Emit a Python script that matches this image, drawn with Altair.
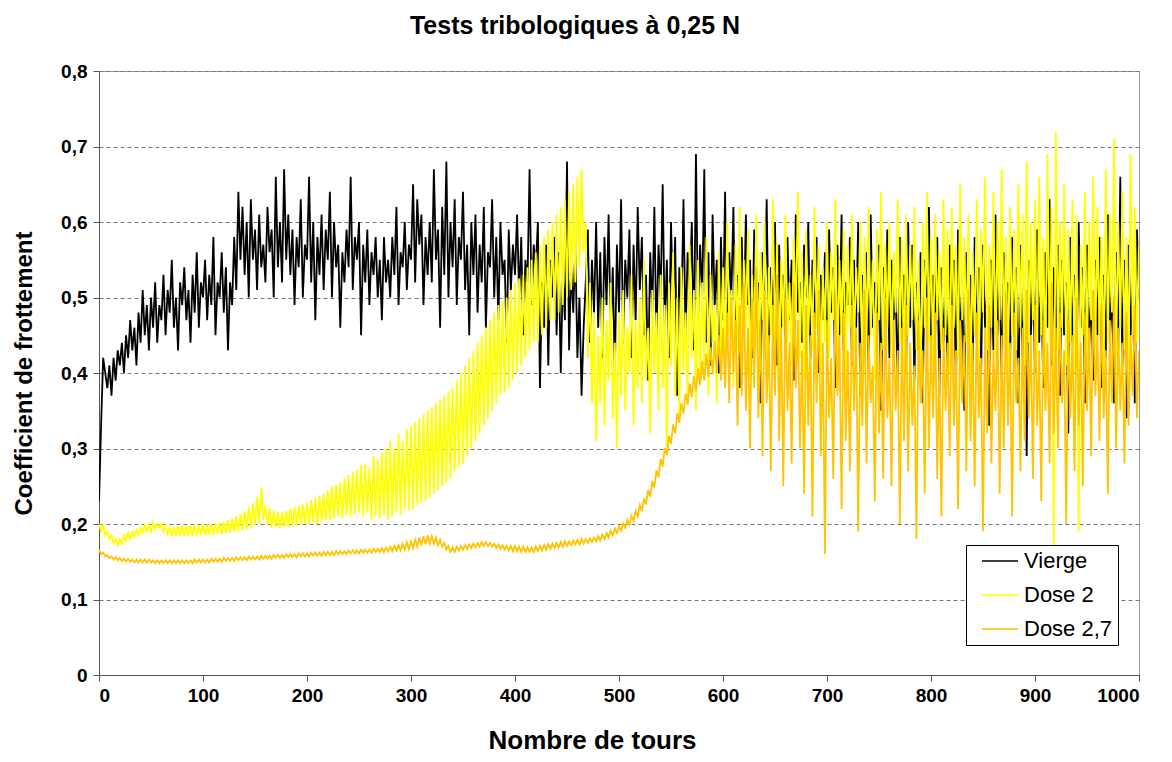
import altair as alt
import pandas as pd

STEP = 2

vierge = [
    0.23, 0.33, 0.42, 0.40, 0.38, 0.41, 0.37, 0.42, 0.39, 0.43,
    0.41, 0.44, 0.40, 0.45, 0.42, 0.47, 0.43, 0.46, 0.41, 0.48,
    0.44, 0.51, 0.45, 0.49, 0.43, 0.50, 0.46, 0.52, 0.44, 0.49,
    0.47, 0.53, 0.45, 0.51, 0.48, 0.55, 0.46, 0.50, 0.43, 0.52,
    0.49, 0.54, 0.47, 0.51, 0.44, 0.53, 0.48, 0.56, 0.46, 0.52,
    0.50, 0.55, 0.47, 0.53, 0.49, 0.58, 0.45, 0.52, 0.50, 0.56,
    0.48, 0.54, 0.43, 0.52, 0.49, 0.58, 0.51, 0.64, 0.55, 0.62,
    0.53, 0.60, 0.50, 0.63, 0.55, 0.59, 0.51, 0.61, 0.54, 0.57,
    0.52, 0.62, 0.56, 0.59, 0.50, 0.66, 0.54, 0.60, 0.52, 0.67,
    0.55, 0.61, 0.53, 0.59, 0.49, 0.58, 0.54, 0.63, 0.50, 0.57,
    0.55, 0.66, 0.52, 0.60, 0.47, 0.58, 0.53, 0.61, 0.51, 0.59,
    0.55, 0.64, 0.50, 0.60, 0.54, 0.57, 0.46, 0.56, 0.52, 0.59,
    0.54, 0.66, 0.51, 0.58, 0.55, 0.60, 0.45, 0.57, 0.52, 0.59,
    0.49, 0.56, 0.53, 0.58, 0.50, 0.55, 0.47, 0.58, 0.52, 0.55,
    0.50, 0.58, 0.53, 0.62, 0.49, 0.56, 0.54, 0.60, 0.51, 0.57,
    0.55, 0.65, 0.52, 0.63, 0.57, 0.61, 0.49, 0.58, 0.53, 0.60,
    0.52, 0.67, 0.55, 0.59, 0.46, 0.62, 0.53, 0.68, 0.50, 0.60,
    0.54, 0.63, 0.49, 0.58, 0.55, 0.64, 0.51, 0.57, 0.45, 0.60,
    0.53, 0.61, 0.48, 0.57, 0.52, 0.62, 0.46, 0.56, 0.54, 0.63,
    0.50, 0.58, 0.47, 0.60, 0.53, 0.55, 0.44, 0.59, 0.51, 0.57,
    0.53, 0.61, 0.50, 0.58, 0.45, 0.55, 0.52, 0.67, 0.49, 0.57,
    0.54, 0.60, 0.38, 0.52, 0.46, 0.57, 0.41, 0.55, 0.50, 0.58,
    0.45, 0.56, 0.40, 0.53, 0.47, 0.68, 0.43, 0.54, 0.48, 0.57,
    0.42, 0.50, 0.37, 0.46, 0.52, 0.59, 0.44, 0.55, 0.48, 0.60,
    0.46, 0.56, 0.42, 0.58, 0.49, 0.61, 0.45, 0.54, 0.40, 0.57,
    0.48, 0.63, 0.44, 0.55, 0.50, 0.59, 0.42, 0.57, 0.47, 0.62,
    0.51, 0.58, 0.45, 0.53, 0.39, 0.56, 0.48, 0.62, 0.44, 0.57,
    0.50, 0.65, 0.46, 0.55, 0.42, 0.60, 0.49, 0.58, 0.37, 0.54,
    0.48, 0.63, 0.45, 0.56, 0.51, 0.60, 0.43, 0.69, 0.47, 0.57,
    0.50, 0.67, 0.44, 0.56, 0.41, 0.61, 0.49, 0.55, 0.40, 0.58,
    0.47, 0.64, 0.45, 0.56, 0.50, 0.62, 0.43, 0.53, 0.38, 0.58,
    0.46, 0.61, 0.49, 0.55, 0.42, 0.59, 0.47, 0.52, 0.36, 0.56,
    0.49, 0.63, 0.44, 0.54, 0.48, 0.60, 0.41, 0.57, 0.46, 0.53,
    0.43, 0.58, 0.47, 0.55, 0.39, 0.61, 0.48, 0.52, 0.44, 0.57,
    0.50, 0.60, 0.42, 0.55, 0.46, 0.58, 0.40, 0.53, 0.47, 0.56,
    0.44, 0.59, 0.48, 0.54, 0.38, 0.57, 0.45, 0.61, 0.43, 0.52,
    0.49, 0.58, 0.41, 0.55, 0.46, 0.60, 0.37, 0.53, 0.47, 0.56,
    0.40, 0.61, 0.46, 0.52, 0.43, 0.57, 0.35, 0.54, 0.45, 0.59,
    0.42, 0.55, 0.47, 0.51, 0.38, 0.58, 0.44, 0.53, 0.40, 0.60,
    0.46, 0.57, 0.39, 0.52, 0.43, 0.56, 0.36, 0.55, 0.47, 0.62,
    0.42, 0.53, 0.45, 0.58, 0.37, 0.54, 0.44, 0.51, 0.40, 0.57,
    0.46, 0.55, 0.38, 0.59, 0.43, 0.52, 0.35, 0.56, 0.45, 0.53,
    0.40, 0.58, 0.44, 0.54, 0.38, 0.57, 0.46, 0.51, 0.33, 0.55,
    0.43, 0.61, 0.45, 0.53, 0.39, 0.56, 0.47, 0.52, 0.41, 0.58,
    0.44, 0.54, 0.36, 0.57, 0.42, 0.50, 0.29, 0.55, 0.45, 0.53,
    0.40, 0.59, 0.44, 0.52, 0.38, 0.56, 0.46, 0.63, 0.41, 0.54,
    0.43, 0.57, 0.37, 0.55, 0.45, 0.52, 0.32, 0.58, 0.44, 0.53,
    0.41, 0.60, 0.46, 0.54, 0.36, 0.57, 0.43, 0.51, 0.39, 0.55,
    0.45, 0.58, 0.38, 0.53, 0.42, 0.61, 0.44, 0.52, 0.36, 0.56,
    0.43, 0.66, 0.41, 0.55, 0.34, 0.57, 0.45, 0.52, 0.36, 0.59,
    0.50,
]

dose_2 = [
    0.200, 0.190, 0.200, 0.185, 0.190, 0.180, 0.185, 0.175, 0.180, 0.172,
    0.180, 0.175, 0.185, 0.178, 0.188, 0.180, 0.190, 0.183, 0.192, 0.186,
    0.195, 0.188, 0.200, 0.190, 0.198, 0.190, 0.202, 0.193, 0.200, 0.195,
    0.200, 0.190, 0.198, 0.186, 0.195, 0.185, 0.196, 0.184, 0.197, 0.185,
    0.198, 0.184, 0.197, 0.185, 0.198, 0.184, 0.199, 0.185, 0.198, 0.186,
    0.200, 0.185, 0.199, 0.186, 0.200, 0.186, 0.201, 0.187, 0.202, 0.187,
    0.203, 0.188, 0.205, 0.189, 0.207, 0.190, 0.210, 0.190, 0.213, 0.192,
    0.217, 0.193, 0.222, 0.195, 0.228, 0.198, 0.236, 0.200, 0.248, 0.205,
    0.225, 0.198, 0.220, 0.195, 0.218, 0.196, 0.216, 0.195, 0.215, 0.196,
    0.217, 0.196, 0.220, 0.197, 0.222, 0.198, 0.224, 0.199, 0.226, 0.200,
    0.228, 0.200, 0.232, 0.202, 0.235, 0.200, 0.238, 0.203, 0.240, 0.205,
    0.245, 0.205, 0.250, 0.207, 0.252, 0.210, 0.255, 0.208, 0.260, 0.212,
    0.265, 0.210, 0.268, 0.213, 0.272, 0.215, 0.278, 0.210, 0.280, 0.215,
    0.275, 0.205, 0.290, 0.210, 0.285, 0.208, 0.295, 0.212, 0.300, 0.205,
    0.310, 0.210, 0.300, 0.215, 0.320, 0.212, 0.310, 0.220, 0.325, 0.218,
    0.330, 0.220, 0.335, 0.225, 0.340, 0.228, 0.345, 0.230, 0.350, 0.235,
    0.355, 0.240, 0.360, 0.245, 0.365, 0.250, 0.370, 0.255, 0.375, 0.260,
    0.380, 0.270, 0.390, 0.275, 0.400, 0.280, 0.410, 0.290, 0.420, 0.300,
    0.430, 0.310, 0.440, 0.320, 0.450, 0.330, 0.460, 0.340, 0.470, 0.350,
    0.480, 0.360, 0.490, 0.370, 0.495, 0.375, 0.500, 0.380, 0.510, 0.390,
    0.520, 0.400, 0.525, 0.410, 0.530, 0.420, 0.540, 0.430, 0.550, 0.440,
    0.560, 0.440, 0.570, 0.450, 0.580, 0.460, 0.590, 0.470, 0.600, 0.470,
    0.610, 0.480, 0.620, 0.490, 0.630, 0.500, 0.640, 0.510, 0.650, 0.520,
    0.660, 0.540, 0.670, 0.560, 0.600, 0.420, 0.520, 0.360, 0.480, 0.310,
    0.450, 0.360, 0.500, 0.330, 0.470, 0.390, 0.520, 0.340, 0.440, 0.300,
    0.480, 0.370, 0.510, 0.350, 0.460, 0.400, 0.530, 0.330, 0.470, 0.380,
    0.500, 0.360, 0.550, 0.390, 0.460, 0.320, 0.510, 0.400, 0.480, 0.350,
    0.530, 0.380, 0.490, 0.300, 0.520, 0.410, 0.560, 0.370, 0.500, 0.340,
    0.540, 0.400, 0.480, 0.360, 0.570, 0.420, 0.510, 0.350, 0.550, 0.390,
    0.520, 0.410, 0.580, 0.370, 0.530, 0.440, 0.490, 0.360, 0.560, 0.420,
    0.540, 0.400, 0.600, 0.450, 0.510, 0.380, 0.570, 0.430, 0.620, 0.410,
    0.550, 0.460, 0.590, 0.390, 0.530, 0.440, 0.610, 0.420, 0.560, 0.470,
    0.600, 0.400, 0.540, 0.450, 0.630, 0.430, 0.570, 0.370, 0.550, 0.460,
    0.610, 0.440, 0.520, 0.410, 0.580, 0.470, 0.640, 0.420, 0.560, 0.390,
    0.590, 0.450, 0.530, 0.430, 0.620, 0.460, 0.570, 0.400, 0.540, 0.440,
    0.600, 0.420, 0.560, 0.470, 0.630, 0.410, 0.550, 0.450, 0.590, 0.380,
    0.570, 0.460, 0.610, 0.430, 0.540, 0.480, 0.600, 0.410, 0.580, 0.440,
    0.620, 0.450, 0.550, 0.390, 0.590, 0.470, 0.640, 0.430, 0.570, 0.460,
    0.600, 0.420, 0.560, 0.480, 0.630, 0.440, 0.580, 0.400, 0.610, 0.450,
    0.570, 0.470, 0.620, 0.430, 0.550, 0.380, 0.600, 0.460, 0.640, 0.440,
    0.580, 0.410, 0.610, 0.470, 0.560, 0.430, 0.630, 0.450, 0.590, 0.400,
    0.620, 0.460, 0.570, 0.420, 0.650, 0.470, 0.580, 0.440, 0.610, 0.390,
    0.560, 0.450, 0.630, 0.410, 0.590, 0.480, 0.660, 0.430, 0.570, 0.460,
    0.640, 0.420, 0.600, 0.470, 0.670, 0.440, 0.580, 0.400, 0.620, 0.450,
    0.590, 0.430, 0.650, 0.460, 0.610, 0.410, 0.680, 0.440, 0.600, 0.470,
    0.630, 0.420, 0.660, 0.450, 0.580, 0.400, 0.690, 0.440, 0.620, 0.170,
    0.720, 0.430, 0.600, 0.460, 0.650, 0.410, 0.590, 0.440, 0.630, 0.400,
    0.610, 0.190, 0.570, 0.450, 0.640, 0.420, 0.600, 0.470, 0.660, 0.430,
    0.620, 0.450, 0.580, 0.400, 0.670, 0.440, 0.610, 0.480, 0.710, 0.420,
    0.600, 0.460, 0.640, 0.430, 0.580, 0.410, 0.690, 0.450, 0.620, 0.440,
    0.570,
]

dose_2_7 = [
    0.166, 0.160, 0.162, 0.157, 0.159, 0.155, 0.157, 0.153, 0.156, 0.152,
    0.155, 0.151, 0.154, 0.150, 0.154, 0.150, 0.153, 0.149, 0.153, 0.149,
    0.153, 0.149, 0.153, 0.149, 0.153, 0.149, 0.152, 0.148, 0.152, 0.148,
    0.152, 0.148, 0.152, 0.148, 0.152, 0.148, 0.152, 0.148, 0.152, 0.148,
    0.152, 0.148, 0.152, 0.148, 0.152, 0.148, 0.153, 0.149, 0.153, 0.149,
    0.153, 0.149, 0.153, 0.149, 0.154, 0.150, 0.154, 0.150, 0.154, 0.150,
    0.155, 0.151, 0.155, 0.151, 0.155, 0.151, 0.156, 0.152, 0.156, 0.152,
    0.156, 0.152, 0.157, 0.153, 0.157, 0.153, 0.157, 0.153, 0.158, 0.154,
    0.158, 0.154, 0.158, 0.154, 0.159, 0.155, 0.159, 0.155, 0.159, 0.155,
    0.160, 0.156, 0.160, 0.156, 0.160, 0.156, 0.161, 0.157, 0.161, 0.157,
    0.161, 0.157, 0.162, 0.158, 0.162, 0.158, 0.162, 0.158, 0.163, 0.159,
    0.163, 0.159, 0.163, 0.159, 0.164, 0.160, 0.164, 0.160, 0.164, 0.160,
    0.165, 0.161, 0.165, 0.161, 0.165, 0.161, 0.166, 0.162, 0.166, 0.162,
    0.166, 0.162, 0.167, 0.163, 0.167, 0.163, 0.168, 0.163, 0.169, 0.164,
    0.170, 0.164, 0.171, 0.165, 0.172, 0.165, 0.174, 0.166, 0.176, 0.167,
    0.177, 0.168, 0.179, 0.170, 0.182, 0.172, 0.184, 0.173, 0.185, 0.174,
    0.184, 0.174, 0.182, 0.172, 0.179, 0.170, 0.175, 0.166, 0.171, 0.163,
    0.169, 0.163, 0.170, 0.165, 0.171, 0.166, 0.172, 0.167, 0.173, 0.168,
    0.174, 0.169, 0.175, 0.170, 0.176, 0.171, 0.176, 0.171, 0.175, 0.170,
    0.174, 0.168, 0.173, 0.167, 0.172, 0.166, 0.171, 0.165, 0.171, 0.164,
    0.171, 0.164, 0.170, 0.163, 0.170, 0.163, 0.169, 0.163, 0.169, 0.163,
    0.170, 0.164, 0.171, 0.165, 0.172, 0.166, 0.173, 0.167, 0.174, 0.168,
    0.175, 0.169, 0.176, 0.170, 0.177, 0.171, 0.177, 0.172, 0.178, 0.173,
    0.179, 0.173, 0.180, 0.174, 0.180, 0.175, 0.181, 0.176, 0.182, 0.177,
    0.184, 0.178, 0.186, 0.180, 0.188, 0.182, 0.191, 0.185, 0.194, 0.188,
    0.197, 0.191, 0.201, 0.195, 0.205, 0.199, 0.211, 0.204, 0.217, 0.210,
    0.225, 0.217, 0.234, 0.226, 0.245, 0.236, 0.257, 0.248, 0.271, 0.262,
    0.286, 0.276, 0.301, 0.291, 0.317, 0.306, 0.332, 0.320, 0.347, 0.334,
    0.360, 0.346, 0.373, 0.358, 0.386, 0.368, 0.396, 0.376, 0.406, 0.384,
    0.416, 0.390, 0.426, 0.395, 0.434, 0.398, 0.443, 0.400, 0.450, 0.390,
    0.46, 0.38, 0.48, 0.36, 0.50, 0.40, 0.47, 0.33, 0.49, 0.37,
    0.52, 0.35, 0.46, 0.30, 0.50, 0.38, 0.54, 0.34, 0.47, 0.29,
    0.51, 0.36, 0.45, 0.27, 0.49, 0.37, 0.53, 0.31, 0.46, 0.25,
    0.50, 0.35, 0.44, 0.28, 0.52, 0.38, 0.47, 0.30, 0.43, 0.24,
    0.49, 0.33, 0.45, 0.21, 0.48, 0.36, 0.51, 0.29, 0.44, 0.16,
    0.47, 0.34, 0.42, 0.26, 0.50, 0.37, 0.45, 0.22, 0.48, 0.31,
    0.43, 0.27, 0.49, 0.35, 0.46, 0.19, 0.44, 0.33, 0.51, 0.28,
    0.45, 0.36, 0.41, 0.23, 0.48, 0.32, 0.44, 0.26, 0.50, 0.34,
    0.42, 0.25, 0.47, 0.35, 0.43, 0.20, 0.46, 0.31, 0.49, 0.27,
    0.44, 0.33, 0.41, 0.18, 0.47, 0.36, 0.43, 0.24, 0.50, 0.30,
    0.45, 0.34, 0.48, 0.26, 0.42, 0.21, 0.46, 0.35, 0.44, 0.29,
    0.49, 0.33, 0.43, 0.22, 0.47, 0.36, 0.45, 0.27, 0.51, 0.31,
    0.44, 0.25, 0.48, 0.34, 0.42, 0.19, 0.46, 0.32, 0.49, 0.28,
    0.43, 0.35, 0.47, 0.24, 0.45, 0.30, 0.50, 0.33, 0.44, 0.21,
    0.48, 0.36, 0.42, 0.27, 0.46, 0.31, 0.51, 0.34, 0.45, 0.26,
    0.49, 0.33, 0.43, 0.23, 0.47, 0.35, 0.44, 0.28, 0.52, 0.32,
    0.46, 0.30, 0.48, 0.36, 0.43, 0.20, 0.47, 0.34, 0.45, 0.27,
    0.50, 0.33, 0.44, 0.25, 0.48, 0.35, 0.46, 0.29, 0.51, 0.37,
    0.45, 0.31, 0.49, 0.34, 0.43, 0.24, 0.47, 0.36, 0.50, 0.30,
    0.46, 0.35, 0.44, 0.28, 0.48, 0.33, 0.45, 0.37, 0.49, 0.34,
    0.43,
]

series_names = ["Vierge", "Dose 2", "Dose 2,7"]
series_colors = ["#000000", "#FFFF00", "#FFC400"]
series_values = [vierge, dose_2, dose_2_7]

frames = []
for name, vals in zip(series_names, series_values):
    frames.append(pd.DataFrame({
        "tours": [STEP * i for i in range(len(vals))],
        "coef": vals,
        "serie": name,
        "order": list(range(len(vals))),
    }))

FONT = "Liberation Sans"

color_scale = alt.Scale(domain=series_names, range=series_colors)

x_enc = alt.X(
    "tours:Q",
    scale=alt.Scale(domain=[0, 1000], nice=False, zero=True),
    axis=alt.Axis(
        title="Nombre de tours",
        values=list(range(0, 1001, 100)),
        format="d",
        grid=False,
        domainColor="#555555",
        tickColor="#555555",
        tickSize=6,
        labelPadding=5,
        titlePadding=22,
        titleX=493,
        titleAlign="center",
        labelFont=FONT,
        labelFontSize=19,
        labelFontWeight="bold",
        labelColor="#000000",
        titleFont=FONT,
        titleFontSize=26,
        titleFontWeight="bold",
        titleColor="#000000",
    ),
)
y_enc = alt.Y(
    "coef:Q",
    scale=alt.Scale(domain=[0, 0.8], nice=False),
    axis=alt.Axis(
        title="Coefficient de frottement",
        values=[0, 0.1, 0.2, 0.3, 0.4, 0.5, 0.6, 0.7, 0.8],
        labelExpr="datum.value == 0 ? '0' : replace(format(datum.value, '.1f'), '.', ',')",
        grid=True,
        gridColor="#777777",
        gridDash=[4, 3],
        gridWidth=1,
        domainColor="#555555",
        tickColor="#555555",
        tickSize=6,
        labelPadding=6,
        titlePadding=24,
        labelFont=FONT,
        labelFontSize=19,
        labelFontWeight="bold",
        labelColor="#000000",
        titleFont=FONT,
        titleFontSize=24,
        titleFontWeight="bold",
        titleColor="#000000",
    ),
)

layers = []
for i, df in enumerate(frames):
    layers.append(
        alt.Chart(df).mark_line(strokeWidth=1.8, clip=True).encode(
            x=x_enc,
            y=y_enc,
            order="order:Q",
            color=alt.Color(
                "serie:N",
                scale=color_scale,
                legend=alt.Legend(
                    title=None,
                    orient="none",
                    legendX=867,
                    legendY=474,
                    symbolType="M-2,0H2",
                    symbolSize=324,
                    symbolStrokeWidth=1.5,
                    symbolOffset=18,
                    labelOffset=13,
                    labelFontSize=22,
                    labelFont=FONT,
                    labelColor="#000000",
                    rowPadding=12,
                    padding=5,
                    strokeColor="#000000",
                    fillColor="#ffffff",
                ) if i == 0 else None,
            ),
        )
    )

chart = alt.layer(*layers).properties(
    width=1040,
    height=604,
    autosize=alt.AutoSizeParams(type="none"),
    padding={"left": 91, "top": 63, "right": 25, "bottom": 80},
    background="#ffffff",
    title=alt.TitleParams(
        text="Tests tribologiques à 0,25 N",
        font=FONT,
        fontSize=25,
        fontWeight="bold",
        anchor="middle",
        dx=-44,
        offset=23,
        color="#000000",
    ),
).configure_view(
    stroke="#999999",
    strokeWidth=1,
)

chart.save("out.html", embed_options={"renderer": "svg", "actions": False})
